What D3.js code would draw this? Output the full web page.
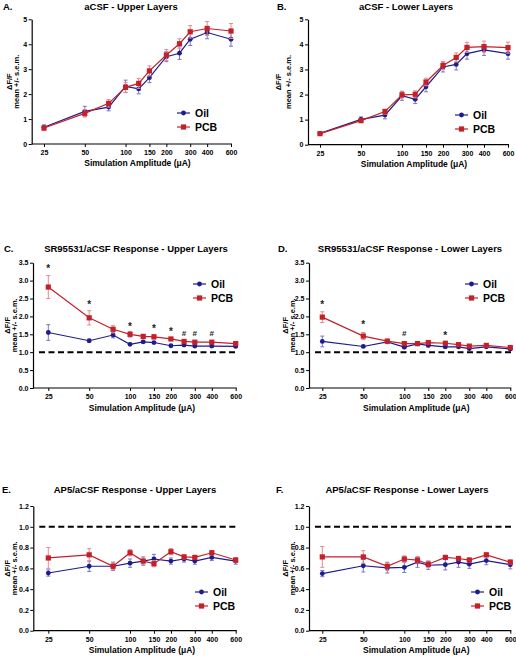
<!DOCTYPE html>
<html><head><meta charset="utf-8">
<script src="https://cdn.jsdelivr.net/npm/d3@7"></script>
<style>
body{margin:0;background:#fff;}
svg{display:block;font-family:"Liberation Sans",Arial,sans-serif;font-weight:bold;}
</style></head><body>
<svg id="c" width="516" height="656"></svg>
<script>
const categories = [25,50,75,100,125,150,200,250,300,400,600];
const tickLabels = [25,50,100,150,200,300,400,600];
const seriesNames = ["Oil","PCB"];

// A. aCSF - Upper
const aOil = [0.67,1.31,1.48,2.31,2.21,2.66,3.50,3.64,4.20,4.47,4.20];
const aOilErr = [0.10,0.20,0.15,0.25,0.20,0.20,0.20,0.25,0.25,0.25,0.28];
const aPcb = [0.64,1.23,1.63,2.27,2.43,2.93,3.57,4.02,4.50,4.63,4.53];
const aPcbErr = [0.08,0.15,0.15,0.20,0.20,0.20,0.22,0.20,0.25,0.28,0.30];
// B. aCSF - Lower
const bOil = [0.45,1.01,1.18,1.95,1.81,2.31,3.10,3.20,3.63,3.78,3.63];
const bOilErr = [0.05,0.10,0.15,0.18,0.17,0.20,0.20,0.22,0.22,0.22,0.22];
const bPcb = [0.44,0.96,1.32,1.99,2.01,2.50,3.16,3.48,3.88,3.91,3.87];
const bPcbErr = [0.04,0.08,0.10,0.12,0.14,0.15,0.16,0.18,0.20,0.22,0.22];
// C. SR95531/aCSF - Upper
const cOil = [1.55,1.32,1.48,1.22,1.29,1.27,1.18,1.20,1.17,1.17,1.16];
const cOilErr = [0.22,0.04,0.08,0.03,0.04,0.03,0.03,0.03,0.03,0.03,0.03];
const cPcb = [2.82,1.96,1.64,1.50,1.44,1.43,1.37,1.30,1.28,1.28,1.24];
const cPcbErr = [0.32,0.20,0.10,0.08,0.06,0.06,0.04,0.04,0.04,0.04,0.03];
const cSig = [[25,3.39,"*"],[50,2.38,"*"],[100,1.76,"*"],[150,1.70,"*"],[200,1.61,"*"],[250,1.55,"#"],[300,1.53,"#"],[400,1.53,"#"]];
// D. SR95531/aCSF - Lower
const dOil = [1.30,1.16,1.29,1.14,1.23,1.19,1.15,1.15,1.10,1.15,1.09];
const dOilErr = [0.15,0.03,0.05,0.04,0.03,0.04,0.04,0.04,0.04,0.03,0.03];
const dPcb = [1.98,1.45,1.31,1.24,1.24,1.27,1.25,1.21,1.17,1.19,1.13];
const dPcbErr = [0.15,0.10,0.05,0.04,0.03,0.04,0.04,0.04,0.04,0.04,0.03];
const dSig = [[25,2.38,"*"],[50,1.81,"*"],[100,1.55,"#"],[200,1.50,"*"]];
// E. AP5/aCSF - Upper
const eOil = [0.555,0.62,0.62,0.65,0.67,0.69,0.67,0.69,0.67,0.705,0.67];
const eOilErr = [0.03,0.05,0.04,0.04,0.04,0.045,0.03,0.03,0.03,0.03,0.03];
const ePcb = [0.70,0.73,0.62,0.75,0.67,0.645,0.76,0.71,0.705,0.75,0.68];
const ePcbErr = [0.10,0.06,0.03,0.03,0.03,0.03,0.03,0.02,0.02,0.02,0.02];
// F. AP5/aCSF - Lower
const fOil = [0.55,0.625,0.605,0.61,0.66,0.63,0.635,0.66,0.64,0.675,0.635];
const fOilErr = [0.03,0.06,0.05,0.05,0.05,0.04,0.05,0.05,0.04,0.04,0.04];
const fPcb = [0.71,0.71,0.62,0.69,0.68,0.64,0.705,0.695,0.68,0.73,0.66];
const fPcbErr = [0.10,0.06,0.04,0.03,0.03,0.03,0.02,0.02,0.02,0.02,0.02];

const panels = [
 {lab:"A.",title:"aCSF - Upper Layers",oil:aOil,oe:aOilErr,pcb:aPcb,pe:aPcbErr,dom:[0,5],ticks:[0,1,2,3,4,5],fmt:d3.format("d"),
  ax:31.7,x0:44,x1:231,y0:144,y1:19.3,labX:3,titleX:131,titleY:9.5,leg:[177,113],xlabY:166,ylab:[12,19]},
 {lab:"B.",title:"aCSF - Lower Layers",oil:bOil,oe:bOilErr,pcb:bPcb,pe:bPcbErr,dom:[0,5],ticks:[0,1,2,3,4,5],fmt:d3.format("d"),
  ax:308,x0:320,x1:508,y0:144.7,y1:19.3,labX:277,titleX:406,titleY:9.5,leg:[455,115],xlabY:167,ylab:[281,290.5]},
 {lab:"C.",title:"SR95531/aCSF Response - Upper Layers",oil:cOil,oe:cOilErr,pcb:cPcb,pe:cPcbErr,dom:[0,3.5],ticks:[0,0.5,1,1.5,2,2.5,3,3.5],fmt:d3.format(".1f"),
  ax:33,x0:48.3,x1:235.7,y0:388,y1:262.7,labX:4,titleX:136,titleY:252,leg:[193,284],xlabY:411,ylab:[10,17],dash:true,sig:cSig},
 {lab:"D.",title:"SR95531/aCSF Response - Lower Layers",oil:dOil,oe:dOilErr,pcb:dPcb,pe:dPcbErr,dom:[0,3.5],ticks:[0,0.5,1,1.5,2,2.5,3,3.5],fmt:d3.format(".1f"),
  ax:309,x0:322.3,x1:510.3,y0:388,y1:262.7,labX:278,titleX:410,titleY:252,leg:[465,284],xlabY:411,ylab:[288,295],dash:true,sig:dSig},
 {lab:"E.",title:"AP5/aCSF Response - Upper Layers",oil:eOil,oe:eOilErr,pcb:ePcb,pe:ePcbErr,dom:[0,1.2],ticks:[0,0.2,0.4,0.6,0.8,1,1.2],fmt:d3.format(".1f"),
  ax:33.3,x0:48.3,x1:235.7,y0:630.7,y1:506,labX:2,titleX:135,titleY:493,leg:[195,592],xlabY:653,ylab:[10,17],dash:true},
 {lab:"F.",title:"AP5/aCSF Response - Lower Layers",oil:fOil,oe:fOilErr,pcb:fPcb,pe:fPcbErr,dom:[0,1.2],ticks:[0,0.2,0.4,0.6,0.8,1,1.2],fmt:d3.format(".1f"),
  ax:309,x0:322.3,x1:510.3,y0:630.7,y1:506,labX:276,titleX:407,titleY:493,leg:[471,592],xlabY:653,ylab:[288,295],dash:true}
];

const OIL="#1c1c8c", PCB="#c4202a", OILE="#7a78c4", PCBE="#e58a8e";
const svg = d3.select("#c");

panels.forEach(p=>{
  const g = svg.append("g");
  const x = d3.scaleLog().domain([25,600]).range([p.x0,p.x1]);
  const y = d3.scaleLinear().domain(p.dom).range([p.y0,p.y1]);
  // y axis
  const ya = g.append("g").attr("transform",`translate(${p.ax},0)`)
    .call(d3.axisLeft(y).tickValues(p.ticks).tickFormat(p.fmt).tickSize(3).tickSizeOuter(0).tickPadding(1.5));
  ya.select(".domain").attr("stroke","#000").attr("stroke-width",1.2);
  ya.selectAll("text").attr("font-size",7).attr("font-weight","bold").attr("font-family","Liberation Sans, Arial");
  // x axis
  const xa = g.append("g").attr("transform",`translate(0,${p.y0})`)
    .call(d3.axisBottom(x).tickValues(tickLabels).tickFormat(d3.format("d")).tickSize(3).tickSizeOuter(0).tickPadding(3));
  xa.select(".domain").attr("d",`M${p.ax},0H${p.x1+1}`).attr("stroke-width",1.2);
  xa.selectAll("text").attr("font-size",7).attr("font-weight","bold").attr("font-family","Liberation Sans, Arial");
  // labels
  g.append("text").attr("x",p.labX).attr("y",p.titleY).attr("font-size",9.5).text(p.lab);
  g.append("text").attr("x",p.titleX).attr("y",p.titleY).attr("font-size",9.5).attr("text-anchor","middle").text(p.title);
  g.append("text").attr("x",(p.x0+p.x1)/2).attr("y",p.xlabY).attr("font-size",8.5).attr("text-anchor","middle").text("Simulation Amplitude (\u03bcA)");
  const yc=(p.y0+p.y1)/2;
  g.append("text").attr("transform",`translate(${p.ylab[0]},${yc}) rotate(-90)`).attr("font-size",7.5).attr("text-anchor","middle").text("\u0394F/F");
  g.append("text").attr("transform",`translate(${p.ylab[1]},${yc}) rotate(-90)`).attr("font-size",7.5).attr("text-anchor","middle").text("mean +/- s.e.m.");
  if(p.dash){
    g.append("line").attr("x1",p.ax+6).attr("x2",p.x1+1).attr("y1",y(1)).attr("y2",y(1))
     .attr("stroke","#000").attr("stroke-width",2).attr("stroke-dasharray","6,3.5");
  }
  const line = d3.line().x((d,i)=>x(categories[i])).y(d=>y(d));
  [[p.oil,p.oe,OIL,OILE,"c"],[p.pcb,p.pe,PCB,PCBE,"s"]].forEach(([vals,errs,col,ecol,shape])=>{
    g.append("path").attr("d",line(vals)).attr("fill","none").attr("stroke",col).attr("stroke-width",1.2);
    const eb = g.append("g");
    vals.forEach((v,i)=>{
      const cx=x(categories[i]), t=y(v+errs[i]), b=y(v-errs[i]);
      eb.append("path").attr("d",`M${cx},${t}V${b}M${cx-2},${t}H${cx+2}M${cx-2},${b}H${cx+2}`)
        .attr("stroke",ecol).attr("stroke-width",1).attr("fill","none");
    });
    vals.forEach((v,i)=>{
      const cx=x(categories[i]), cy=y(v);
      if(shape==="c") g.append("circle").attr("cx",cx).attr("cy",cy).attr("r",2.4).attr("fill",col);
      else g.append("rect").attr("x",cx-2.6).attr("y",cy-2.6).attr("width",5.2).attr("height",5.2).attr("fill",col);
    });
  });
  if(p.sig){
    p.sig.forEach(([c,v,t])=>{
      g.append("text").attr("x",x(c)).attr("y",y(v)+(t==="*"?5:3)).attr("text-anchor","middle")
        .attr("font-size",t==="*"?10:8).attr("fill","#222").text(t);
    });
  }
  // legend
  const [lx,ly]=p.leg;
  [[OIL,"c",seriesNames[0]],[PCB,"s",seriesNames[1]]].forEach(([col,shape,name],k)=>{
    const yy=ly+k*14;
    g.append("line").attr("x1",lx).attr("x2",lx+13).attr("y1",yy).attr("y2",yy).attr("stroke",col).attr("stroke-width",1.2);
    if(shape==="c") g.append("circle").attr("cx",lx+6.5).attr("cy",yy).attr("r",2.4).attr("fill",col);
    else g.append("rect").attr("x",lx+6.5-2.6).attr("y",yy-2.6).attr("width",5.2).attr("height",5.2).attr("fill",col);
    g.append("text").attr("x",lx+18).attr("y",yy+3.8).attr("font-size",10.5).text(name);
  });
});
</script></body></html>
